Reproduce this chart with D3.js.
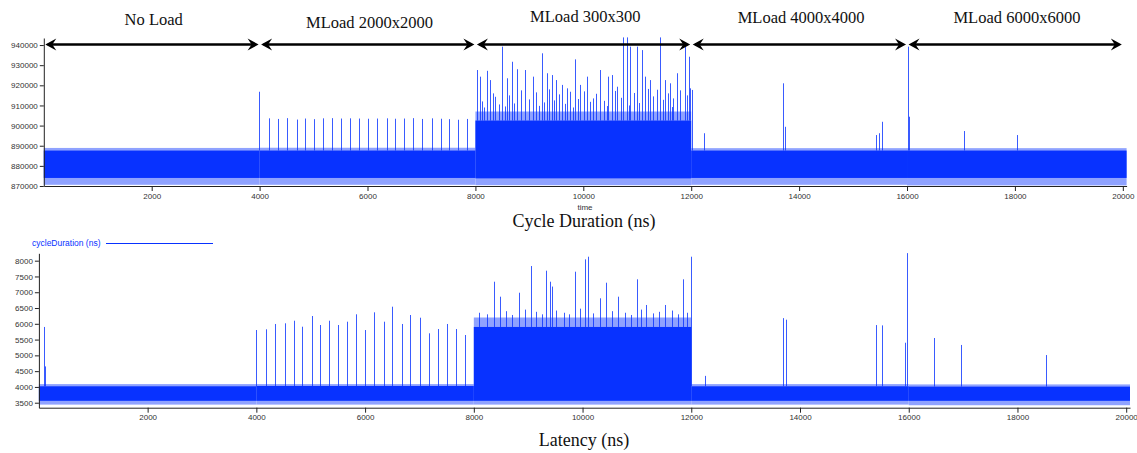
<!DOCTYPE html>
<html>
<head>
<meta charset="utf-8">
<script src="https://cdn.jsdelivr.net/npm/d3@7"></script>
<style>
  body { margin: 0; background: #fff; }
  svg text { font-family: "Liberation Sans", Arial, sans-serif; }
  .tick text { font-size: 8px; fill: #333; }
  .tick line, .domain { stroke: #222; }
  .serif { font-family: "Liberation Serif", "Times New Roman", serif !important; fill: #111; }
</style>
</head>
<body>
<svg id="chart" width="1137" height="453"></svg>
<script>
// load phases along the time axis
const phaseNames = ['No Load', 'MLoad 2000x2000', 'MLoad 300x300', 'MLoad 4000x4000', 'MLoad 6000x6000'];
const phaseBreaks = [0, 4000, 8000, 12000, 16000, 20000];
const timeEnd = 20070;
const timeTicks = [2000, 4000, 6000, 8000, 10000, 12000, 14000, 16000, 18000, 20000];

// cycle duration: per phase [core low, core high, fringe low, fringe high]
const cycleTicks = [870000, 880000, 890000, 900000, 910000, 920000, 930000, 940000];
const cycleBand = [
  [874000, 887600, 870600, 888900],
  [874000, 887600, 870600, 889000],
  [873800, 902500, 870400, 907000],
  [874000, 887600, 870600, 888800],
  [874000, 887600, 870300, 888800],
];
const cycleSpikes = [
  [3991, 916800], [4171, 903600], [4332, 903300], [4499, 903700], [4685, 903000],
  [4839, 903500], [5006, 903200], [5167, 903600], [5334, 903700], [5501, 903500],
  [5673, 903600], [5846, 903500], [6013, 903400], [6180, 903500], [6354, 903600],
  [6508, 903400], [6675, 903500], [6837, 903700], [7004, 903300], [7189, 903600],
  [7356, 903400], [7516, 903200], [7683, 902900], [7839, 903300],
  [12013, 917700], [12229, 896200], [13701, 921000], [13744, 899400], [15432, 895300],
  [15482, 896200], [15531, 901900], [16013, 939200], [16032, 904400], [17065, 897300],
  [18042, 895300],
];
const cycleLoadSpikes = [
  [8024, 927600], [8085, 924300], [8210, 927200], [8271, 922600], [8364, 914300],
  [8499, 939200], [8581, 923500], [8685, 931700], [8766, 928000], [8920, 927600],
  [9063, 924300], [9230, 935900], [9323, 926000], [9415, 925100], [9495, 922600],
  [9601, 920200], [9694, 918500], [9848, 932900], [9941, 920200], [10065, 924300],
  [10176, 913500], [10312, 927600], [10466, 924300], [10529, 925100], [10622, 919300],
  [10744, 943800], [10807, 943800], [10869, 939200], [10993, 939200], [11085, 937500],
  [11147, 924300], [11240, 922600], [11425, 943800], [11518, 922600], [11610, 921000],
  [11735, 926000], [11889, 939200], [11950, 934200], [11980, 918500],
  [8130, 912000], [8160, 909000], [8320, 916000], [8440, 910500], [8540, 909500],
  [8630, 915000], [8720, 911000], [8850, 917500], [8990, 913000], [9120, 916500],
  [9180, 909800], [9280, 911500], [9370, 918000], [9460, 912500], [9550, 915500],
  [9660, 910800], [9760, 916800], [9810, 909000], [9900, 913200], [10010, 917000],
  [10120, 911800], [10240, 915800], [10380, 912300], [10430, 909700], [10580, 917200],
  [10690, 913800], [10850, 910000], [10940, 916200], [11040, 911200], [11200, 918200],
  [11300, 914500], [11370, 917800], [11470, 912800], [11570, 916000], [11640, 909200],
  [11660, 913500], [11800, 917500], [11930, 915000],
];

// latency
const latencyTicks = [3500, 4000, 4500, 5000, 5500, 6000, 6500, 7000, 7500, 8000];
const latencyBand = [
  [3560, 4020, 3440, 4090],
  [3560, 4030, 3440, 4090],
  [3560, 5900, 3440, 6200],
  [3560, 4020, 3440, 4090],
  [3560, 4010, 3420, 4080],
];
const latencySpikes = [
  [100, 5900], [110, 4650],
  [3991, 5803], [4169, 5826], [4340, 5994], [4524, 6016], [4689, 6098], [4842, 5908],
  [5015, 6247], [5167, 5962], [5333, 6098], [5498, 5962], [5669, 6067], [5842, 6301],
  [5994, 5803], [6173, 6364], [6344, 6067], [6496, 6542], [6675, 5994], [6834, 6279],
  [7006, 6193], [7177, 5699], [7342, 5835], [7502, 5994], [7667, 5835], [7838, 5645],
  [12250, 4350], [13680, 6180], [13740, 6130], [15390, 5960], [15500, 5950],
  [15940, 5400], [15975, 8240], [16470, 5550], [16970, 5330], [18530, 5010],
];
const latencyLoadSpikes = [
  [8366, 7334], [8489, 6859], [8831, 6985], [9059, 7831], [9322, 7683], [9395, 7334],
  [9430, 7180], [9855, 7651], [10039, 8043], [10100, 8126], [10327, 6808], [10437, 7302],
  [10651, 6859], [11000, 7410], [11173, 6596], [11509, 6596], [11846, 7410], [12000, 8126],
  [8100, 6350], [8250, 6300], [8600, 6400], [8700, 6280], [8950, 6450], [9150, 6380],
  [9250, 6300], [9520, 6420], [9650, 6350], [9760, 6300], [9950, 6480], [10200, 6330],
  [10550, 6400], [10780, 6350], [10900, 6280], [11080, 6450], [11300, 6330], [11400, 6380],
  [11650, 6420], [11750, 6300], [11920, 6350],
];

const blue = '#0832ff';
const lightBlue = '#8fa2ff';
const svg = d3.select('#chart');

function phaseOf(t) {
  let i = d3.bisectRight(phaseBreaks, t) - 1;
  return Math.max(0, Math.min(phaseNames.length - 1, i));
}

function drawPanel(opts) {
  const { x, y, band, spikes, ticks, axisY } = opts;
  const g = svg.append('g');

  const ends = phaseBreaks.slice(0, -1).map((b, i) => [b, i === phaseNames.length - 1 ? timeEnd : phaseBreaks[i + 1]]);

  // light fringe, then dense core
  g.selectAll('rect.fringe')
    .data(ends)
    .join('rect')
    .attr('x', (d) => x(d[0]))
    .attr('width', (d) => x(d[1]) - x(d[0]))
    .attr('y', (d, i) => y(band[i][3]))
    .attr('height', (d, i) => y(band[i][2]) - y(band[i][3]))
    .attr('fill', lightBlue);

  const allSpikes = spikes.flat();
  g.selectAll('line.spike')
    .data(allSpikes)
    .join('line')
    .attr('x1', (d) => Math.round(x(d[0])) + 0.5)
    .attr('x2', (d) => Math.round(x(d[0])) + 0.5)
    .attr('y1', (d) => y(band[phaseOf(d[0])][1]))
    .attr('y2', (d) => y(d[1]))
    .attr('stroke', blue)
    .attr('stroke-opacity', 0.8)
    .attr('stroke-width', 1);

  g.selectAll('rect.core')
    .data(ends)
    .join('rect')
    .attr('x', (d) => x(d[0]))
    .attr('width', (d) => x(d[1]) - x(d[0]))
    .attr('y', (d, i) => y(band[i][1]))
    .attr('height', (d, i) => y(band[i][0]) - y(band[i][1]))
    .attr('fill', blue);

  g.append('g')
    .attr('transform', `translate(${x.range()[0]},0)`)
    .call(d3.axisLeft(y).tickValues(ticks).tickFormat(d3.format('d')).tickSize(4).tickSizeOuter(0).tickPadding(2));

  g.append('g')
    .attr('transform', `translate(0,${axisY})`)
    .call(d3.axisBottom(x).tickValues(timeTicks).tickFormat(d3.format('d')).tickSize(5).tickSizeOuter(0).tickPadding(2));

  return g;
}

// top panel: cycle duration
const xTop = d3.scaleLinear().domain([0, timeEnd]).range([43.8, 1126.6]);
const yTop = d3.scaleLinear().domain([870000, 943500]).range([186, 38]);
drawPanel({ x: xTop, y: yTop, band: cycleBand, spikes: [cycleSpikes, cycleLoadSpikes], ticks: cycleTicks, axisY: 186 });

// bottom panel: latency
const xBot = d3.scaleLinear().domain([0, timeEnd]).range([38.9, 1130]);
const yBot = d3.scaleLinear().domain([3342, 8234]).range([407.7, 253.3]);
drawPanel({ x: xBot, y: yBot, band: latencyBand, spikes: [latencySpikes, latencyLoadSpikes], ticks: latencyTicks, axisY: 407.7 });

svg.append('text')
  .attr('x', 585).attr('y', 210)
  .attr('text-anchor', 'middle')
  .attr('font-size', 8).attr('fill', '#333')
  .text('time');

svg.append('text').attr('class', 'serif')
  .attr('x', 584).attr('y', 227)
  .attr('text-anchor', 'middle').attr('font-size', 18)
  .text('Cycle Duration (ns)');

svg.append('text').attr('class', 'serif')
  .attr('x', 584).attr('y', 446)
  .attr('text-anchor', 'middle').attr('font-size', 18)
  .text('Latency (ns)');

// legend
svg.append('text')
  .attr('x', 32).attr('y', 246)
  .attr('font-size', 8.5).attr('fill', blue)
  .text('cycleDuration (ns)');
svg.append('line')
  .attr('x1', 106).attr('x2', 213).attr('y1', 243.5).attr('y2', 243.5)
  .attr('stroke', blue).attr('stroke-width', 1);

// phase arrows along the top
const arrowY = 44.5;
const labelBaseline = [25, 28, 22, 23, 23];
const head = (tip, dir) => {
  const b = tip - dir * 11, n = tip - dir * 7;
  return `M${tip},${arrowY}L${b},${arrowY - 6}L${n},${arrowY}L${b},${arrowY + 6}Z`;
};
const arrows = svg.append('g').selectAll('g')
  .data(phaseNames)
  .join('g');

arrows.append('line')
  .attr('x1', (d, i) => xTop(phaseBreaks[i]) + 4)
  .attr('x2', (d, i) => xTop(phaseBreaks[i + 1]) - 4)
  .attr('y1', arrowY).attr('y2', arrowY)
  .attr('stroke', '#000').attr('stroke-width', 2.5);

arrows.append('path')
  .attr('d', (d, i) => head(xTop(phaseBreaks[i]) + 1.5, -1) + head(xTop(phaseBreaks[i + 1]) - 1, 1))
  .attr('fill', '#000');

arrows.append('text').attr('class', 'serif')
  .attr('x', (d, i) => (xTop(phaseBreaks[i]) + xTop(phaseBreaks[i + 1])) / 2 + 2)
  .attr('y', (d, i) => labelBaseline[i])
  .attr('text-anchor', 'middle')
  .attr('font-size', 16.5)
  .text((d) => d);
</script>
</body>
</html>
